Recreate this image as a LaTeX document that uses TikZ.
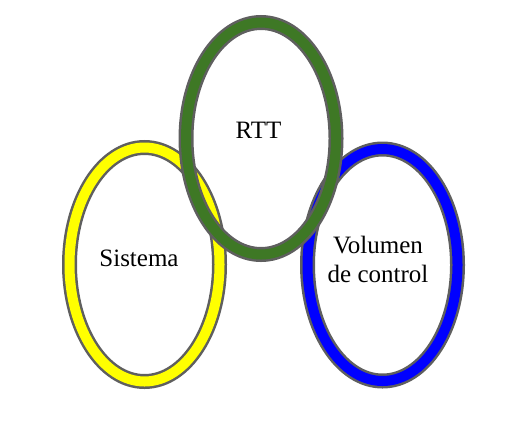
\documentclass[tikz,border=0pt]{standalone}
\usepackage{fontspec}
\setmainfont{Liberation Serif}
\definecolor{ringgray}{HTML}{5F5F5F}
\definecolor{ringgreen}{HTML}{3E7825}
\definecolor{ringyellow}{HTML}{FFFF00}
\definecolor{ringblue}{HTML}{0000FF}
\tikzset{
  ringout/.style={draw=ringgray, line width=15pt},
  ringin/.style={line width=10pt},
  lbl/.style={font=\fontsize{25}{29}\selectfont, align=center, inner sep=0pt}
}
\begin{document}
\begin{tikzpicture}[x=1pt,y=-1pt]
\useasboundingbox (0,0) rectangle (513,421);
% yellow
\draw[ringout] (144.5,264.5) ellipse [x radius=75, y radius=117];
\draw[ringin, draw=ringyellow] (144.5,264.5) ellipse [x radius=75, y radius=117];
% blue
\draw[ringout] (382.5,265) ellipse [x radius=75, y radius=116];
\draw[ringin, draw=ringblue] (382.5,265) ellipse [x radius=75, y radius=116];
% green
\draw[ringout] (261,138.5) ellipse [x radius=75, y radius=116];
\draw[ringin, draw=ringgreen] (261,138.5) ellipse [x radius=75, y radius=116];
% labels
\node[lbl] (rtt) at (258.5,130) {RTT};
\node[lbl] (sis) at (139,258) {Sistema};
\node[lbl] (vc) at (378,259) {Volumen\\de control};
\end{tikzpicture}
\end{document}
